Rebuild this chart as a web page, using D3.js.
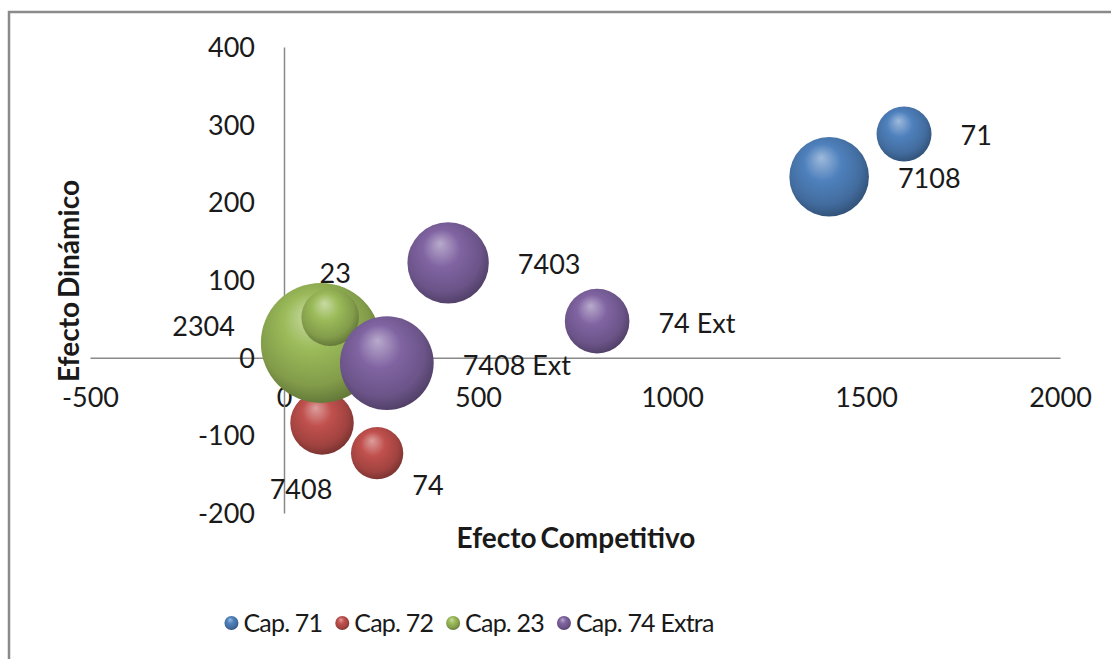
<!DOCTYPE html>
<html>
<head>
<meta charset="utf-8">
<script src="https://cdn.jsdelivr.net/npm/d3@7/dist/d3.min.js"></script>
<style>
  body { margin: 0; background: #fff; }
  text { font-family: Lato, "Open Sans", sans-serif; fill: #1a1a1a; }
</style>
</head>
<body>
<div class="chart"></div>
<script>
// series and points
const seriesNames = ['Cap. 71', 'Cap. 72', 'Cap. 23', 'Cap. 74 Extra'];
const seriesColors = ['#4F81BD', '#C0504D', '#9BBB59', '#8064A2'];

const pointNames = ['71', '7108', '7408', '74', '2304', '23', '7403', '74 Ext', '7408 Ext'];
const pointSeries = [0, 0, 1, 1, 2, 2, 3, 3, 3];
const xValues = [1598, 1405, 98, 240, 95, 119, 423, 807, 265];
const yValues = [288, 233, -84, -123, 19, 52, 122, 47, -7];
const sizeValues = [21, 44, 28, 19, 100, 23, 46, 29, 61];

const xTicks = [-500, 0, 500, 1000, 1500, 2000];
const yTicks = [-200, -100, 0, 100, 200, 300, 400];

const WIDTH = 1111, HEIGHT = 659;

let svg = d3.select('.chart').append('svg')
  .attr('width', WIDTH)
  .attr('height', HEIGHT);

// chart border (runs off the right and bottom of the picture)
svg.append('rect')
  .attr('x', 9).attr('y', 12)
  .attr('width', 1200).attr('height', 700)
  .attr('fill', '#fff')
  .attr('stroke', '#8a8a8a')
  .attr('stroke-width', 2.5);

let xRange = d3.scaleLinear().domain([-500, 2000]).range([90, 1060]);
let yRange = d3.scaleLinear().domain([-200, 400]).range([513, 47]);
let rScale = d3.scaleSqrt().domain([0, d3.max(sizeValues)]).range([0, 60]);

// plain hyphen for negatives, like the original
let fmt = d => String(d);

// sphere gradients
let defs = svg.append('defs');
seriesColors.forEach((c, i) => {
  let g = defs.append('radialGradient')
    .attr('id', 'ball' + i)
    .attr('cx', '45%').attr('cy', '42%').attr('r', '58%')
    .attr('fx', '40%').attr('fy', '26%');
  let base = d3.color(c);
  g.append('stop').attr('offset', '0%').attr('stop-color', d3.interpolateRgb(c, '#ffffff')(0.45));
  g.append('stop').attr('offset', '40%').attr('stop-color', c);
  g.append('stop').attr('offset', '80%').attr('stop-color', base.darker(0.5));
  g.append('stop').attr('offset', '100%').attr('stop-color', base.darker(1.2));
});

// axes crossing at zero
let xAxis = d3.axisBottom(xRange).tickValues(xTicks).tickSize(0).tickSizeOuter(0)
  .tickFormat(fmt);
let xAxisg = svg.append('g')
  .attr('transform', 'translate(0,' + yRange(0) + ')')
  .call(xAxis);
xAxisg.selectAll('.tick text')
  .attr('y', 40)
  .attr('dy', '0.35em')
  .style('font-size', '27px');

let yAxis = d3.axisLeft(yRange).tickValues(yTicks).tickSize(0).tickSizeOuter(0)
  .tickPadding(29).tickFormat(fmt);
let yAxisg = svg.append('g')
  .attr('transform', 'translate(' + xRange(0) + ',0)')
  .call(yAxis);
yAxisg.selectAll('.tick text')
  .attr('dy', '0.35em')
  .style('font-size', '27px');

[xAxisg, yAxisg].forEach(a => {
  a.selectAll('path').attr('stroke', '#8a8a8a').attr('stroke-width', 1.5);
  a.selectAll('text').attr('fill', '#1a1a1a').style('font-family', 'Lato, sans-serif');
});

// axis titles
svg.append('text')
  .text('Efecto Competitivo')
  .attr('x', 576).attr('y', 538).attr('dy', '0.35em')
  .attr('text-anchor', 'middle')
  .style('font-size', '28px').style('font-weight', 'bold')
  .style('word-spacing', '-3px');
svg.append('text')
  .text('Efecto Dinámico')
  .attr('transform', 'translate(69,281) rotate(-90)')
  .attr('dy', '0.35em')
  .attr('text-anchor', 'middle')
  .style('font-size', '28px').style('font-weight', 'bold')
  .style('word-spacing', '-3px');

// bubbles: series in order, bigger first inside a series
let points = pointNames.map((n, i) => ({
  name: n, s: pointSeries[i], x: xValues[i], y: yValues[i], size: sizeValues[i]
}));
let drawOrder = points.slice().sort((a, b) => (a.s - b.s) || (b.size - a.size));

svg.append('g').selectAll('circle')
  .data(drawOrder)
  .enter()
  .append('circle')
  .attr('cx', d => xRange(d.x))
  .attr('cy', d => yRange(d.y))
  .attr('r', d => rScale(d.size))
  .attr('fill', d => 'url(#ball' + d.s + ')');

// data labels, most to the right of the bubble, a few moved by hand
let labelPlace = {
  '2304': {side: 'left', dx: -26, dy: -16},
  '23': {side: 'above', dx: 5, dy: -15},
  '7408': {side: 'below', dx: -21, dy: 35},
  '74': {side: 'right', dx: 9, dy: 32}
};
svg.append('g').selectAll('text')
  .data(points)
  .enter()
  .append('text')
  .text(d => d.name)
  .each(function (d) {
    let cx = xRange(d.x), cy = yRange(d.y), r = rScale(d.size);
    let p = labelPlace[d.name] || {side: 'right', dx: 29, dy: 2};
    let t = d3.select(this).attr('dy', '0.35em').style('font-size', '27px');
    if (p.side === 'right') {
      t.attr('x', cx + r + p.dx).attr('y', cy + p.dy).attr('text-anchor', 'start');
    } else if (p.side === 'left') {
      t.attr('x', cx - r + p.dx).attr('y', cy + p.dy).attr('text-anchor', 'end');
    } else if (p.side === 'above') {
      t.attr('x', cx + p.dx).attr('y', cy - r + p.dy).attr('text-anchor', 'middle');
    } else {
      t.attr('x', cx + p.dx).attr('y', cy + r + p.dy).attr('text-anchor', 'middle');
    }
  });

// legend
let legend = svg.append('g');
let lx = 0;
seriesNames.forEach((n, i) => {
  let item = legend.append('g').attr('transform', 'translate(' + lx + ',0)');
  item.append('circle')
    .attr('cx', 0).attr('cy', 0).attr('r', 7)
    .attr('fill', 'url(#ball' + i + ')');
  let t = item.append('text')
    .text(n)
    .attr('x', 12).attr('dy', '0.35em')
    .style('font-size', '25px')
    .style('letter-spacing', '-0.8px');
  lx += 12 + t.node().getComputedTextLength() + 20;
});
let lw = legend.node().getBBox();
legend.attr('transform', 'translate(' + (469 - lw.width / 2 - lw.x) + ',623)');
</script>
</body>
</html>
